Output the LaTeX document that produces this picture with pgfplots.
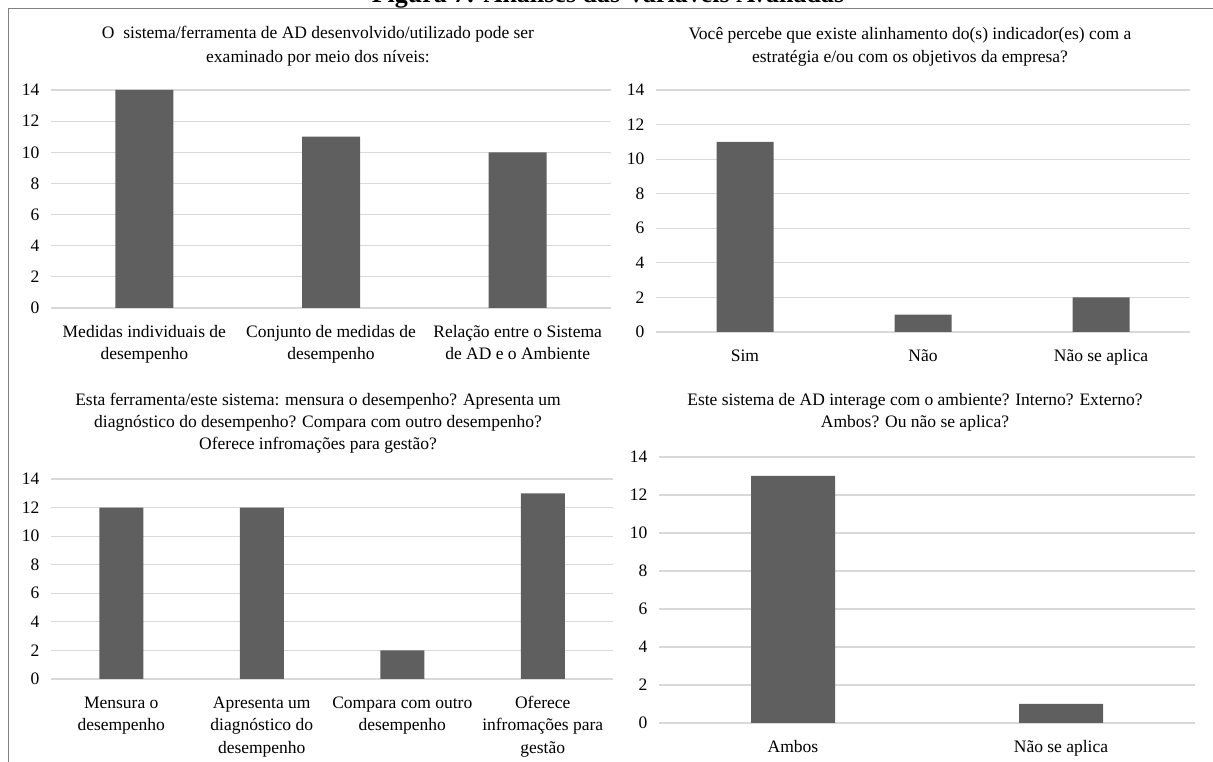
\documentclass[border=0pt]{standalone}
\usepackage{pgfplots}
\pgfplotsset{compat=1.18}
\usepackage{fontspec}
\setmainfont{Liberation Serif}
\definecolor{barc}{HTML}{5F5F5F}
\definecolor{gridc}{HTML}{D9D9D9}
\definecolor{framec}{HTML}{808080}
\newcommand{\lblfont}{\fontsize{17.5}{22.5}\selectfont}
\pgfplotsset{
  panel/.style={
    scale only axis,
    axis line style={draw=none},
    ymin=0, ymax=14, ytick={0,2,...,14},
    ymajorgrids, grid style={gridc, line width=1.2pt},
    major tick length=0pt,
    xtick=data,
    ybar, bar width=#1,
    /pgf/number format/assume math mode=true,
    tick label style={font=\lblfont, text=black},
    yticklabel style={xshift=-8pt},
    xticklabel style={align=center, anchor=north, inner sep=0pt, yshift=-13.25pt},
    anchor=south west,
  },
}
\begin{document}
\begin{tikzpicture}[x=1pt,y=1pt]

% Panel 1
\begin{axis}[panel=58pt, at={(51pt,454pt)}, width=560pt, height=218pt,
  xmin=-0.5, xmax=2.5,
  xticklabels={{\strut Medidas individuais de\\desempenho},{\strut Conjunto de medidas de\\desempenho},{\strut Relação entre o Sistema\\de AD e o Ambiente}}]
\addplot[fill=barc, draw=none] coordinates {(0,14) (1,11) (2,10)};
\end{axis}

% Panel 2
\begin{axis}[panel=57pt, at={(656pt,430pt)}, width=534pt, height=242pt,
  xmin=-0.5, xmax=2.5,
  xticklabels={\strut Sim,\strut Não,\strut Não se aplica}]
\addplot[fill=barc, draw=none] coordinates {(0,11) (1,1) (2,2)};
\end{axis}

% Panel 3
\begin{axis}[panel=44pt, at={(51pt,83pt)}, width=562pt, height=200pt,
  xmin=-0.5, xmax=3.5,
  xticklabels={{\strut Mensura o\\desempenho},{\strut Apresenta um\\diagnóstico do\\desempenho},{\strut Compara com outro\\desempenho},{\strut Oferece\\infromações para\\gestão}}]
\addplot[fill=barc, draw=none] coordinates {(0,12) (1,12) (2,2) (3,13)};
\end{axis}

% Panel 4
\begin{axis}[panel=84pt, at={(659pt,39pt)}, width=536pt, height=266pt,
  xmin=-0.5, xmax=1.5,
  xticklabels={\strut Ambos,\strut Não se aplica}]
\addplot[fill=barc, draw=none] coordinates {(0,13) (1,1)};
\end{axis}

\node[anchor=base, font=\lblfont] at (318,723) {O\ \ sistema/ferramenta de AD desenvolvido/utilizado pode ser};
\node[anchor=base, font=\lblfont] at (318,699) {examinado por meio dos níveis:};
\node[anchor=base, font=\lblfont] at (910,722) {Você percebe que existe alinhamento do(s) indicador(es) com a};
\node[anchor=base, font=\lblfont] at (910,699) {estratégia e/ou com os objetivos da empresa?};
\node[anchor=base, font=\lblfont] at (318,356) {Esta ferramenta/este sistema: mensura o desempenho? Apresenta um};
\node[anchor=base, font=\lblfont] at (318,334) {diagnóstico do desempenho? Compara com outro desempenho?};
\node[anchor=base, font=\lblfont] at (318,312) {Oferece infromações para gestão?};
\node[anchor=base, font=\lblfont] at (915,356) {Este sistema de AD interage com o ambiente? Interno? Externo?};
\node[anchor=base, font=\lblfont] at (915,334) {Ambos? Ou não se aplica?};

\node[anchor=base, font=\fontsize{26}{30}\selectfont\bfseries] at (608,759.5) {Figura 7: Análises das Variáveis Avaliadas};
\draw[framec, line width=1.3pt] (8.5,0) -- (8.5,753.5) -- (1213,753.5);

\pgfresetboundingbox
\useasboundingbox (0,0) rectangle (1213,762);
\end{tikzpicture}
\end{document}
